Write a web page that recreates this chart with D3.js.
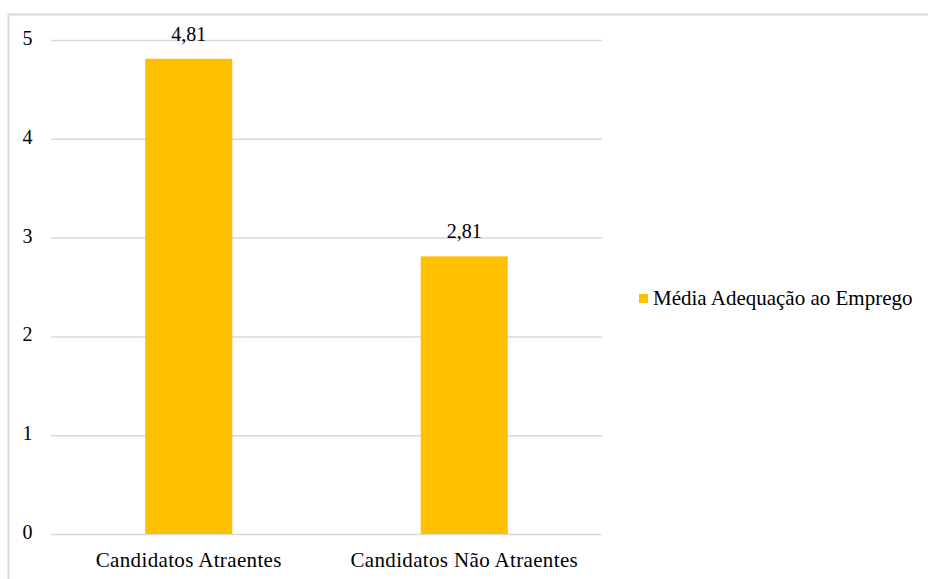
<!DOCTYPE html>
<html>
<head>
<meta charset="utf-8">
<script src="https://cdn.jsdelivr.net/npm/d3@7"></script>
</head>
<body>
<svg id="chart" width="928" height="579"></svg>
<script>
// Average job-suitability score by candidate group
const categories = ["Candidatos Atraentes", "Candidatos Não Atraentes"];
const values = [4.81, 2.81];
const valueLabels = ["4,81", "2,81"];
const yTicks = [0, 1, 2, 3, 4, 5];
const seriesName = "Média Adequação ao Emprego";

d3.select("body").style("margin", "0");
const FONT = "'Liberation Serif'";
const svg = d3.select("#chart")
  .style("display", "block")
  .style("font-family", FONT, "important");
const barColor = "#FFC000";
const gridColor = "#d9d9d9";

// serif text helper
const serif = sel => sel.style("font-family", FONT, "important").attr("fill", "#000");

// chart frame
svg.append("rect")
  .attr("x", 8.5).attr("y", 14.5)
  .attr("width", 940).attr("height", 600)
  .attr("fill", "none")
  .attr("stroke", gridColor)
  .attr("stroke-width", 2);

const plot = { left: 51, right: 602, top: 40, bottom: 534 };

const x = d3.scaleBand()
  .domain(categories)
  .range([plot.left, plot.right])
  .paddingInner(0.684)
  .paddingOuter(0.342);

const y = d3.scaleLinear()
  .domain([0, 5])
  .range([plot.bottom, plot.top]);

// horizontal gridlines
svg.append("g")
  .selectAll("line")
  .data(yTicks)
  .join("line")
  .attr("x1", plot.left).attr("x2", plot.right)
  .attr("y1", d => y(d) + 0.5).attr("y2", d => y(d) + 0.5)
  .attr("stroke", gridColor)
  .attr("stroke-width", 1.5);

// y axis labels
const yAxis = d3.axisLeft(y).tickValues(yTicks).tickSize(0).tickPadding(0).tickFormat(d3.format("d"));
svg.append("g")
  .attr("transform", "translate(32.5,0)")
  .call(yAxis)
  .call(g => g.select(".domain").remove())
  .call(g => g.attr("font-family", FONT).attr("font-size", 20))
  .call(g => g.selectAll("text")
    .attr("dy", "0.22em")
    .attr("font-size", 20)
    .call(serif));

// bars
svg.append("g")
  .selectAll("rect")
  .data(values)
  .join("rect")
  .attr("x", (d, i) => x(categories[i]))
  .attr("y", d => y(d))
  .attr("width", x.bandwidth())
  .attr("height", d => y(0) - y(d))
  .attr("fill", barColor);

// value labels
svg.append("g")
  .attr("font-family", FONT)
  .selectAll("text")
  .data(values)
  .join("text")
  .attr("x", (d, i) => x(categories[i]) + x.bandwidth() / 2)
  .attr("y", d => y(d) - 18)
  .attr("text-anchor", "middle")
  .attr("font-size", 20)
  .call(serif)
  .text((d, i) => valueLabels[i]);

// x axis labels
const xAxis = d3.axisBottom(x).tickSize(0).tickPadding(0);
svg.append("g")
  .attr("transform", `translate(0,${plot.bottom})`)
  .call(xAxis)
  .call(g => g.select(".domain").remove())
  .call(g => g.attr("font-family", FONT).attr("font-size", 21))
  .call(g => g.selectAll("text")
    .attr("dy", null)
    .attr("y", 33)
    .attr("font-size", 21)
    .attr("letter-spacing", 0.35)
    .call(serif));

// legend
const legend = svg.append("g")
  .attr("font-family", FONT)
  .attr("transform", "translate(639,294)");
legend.append("rect")
  .attr("width", 9).attr("height", 9)
  .attr("fill", barColor);
legend.append("text")
  .attr("x", 14).attr("y", 11)
  .attr("font-size", 21)
  .call(serif)
  .text(seriesName);
</script>
</body>
</html>
